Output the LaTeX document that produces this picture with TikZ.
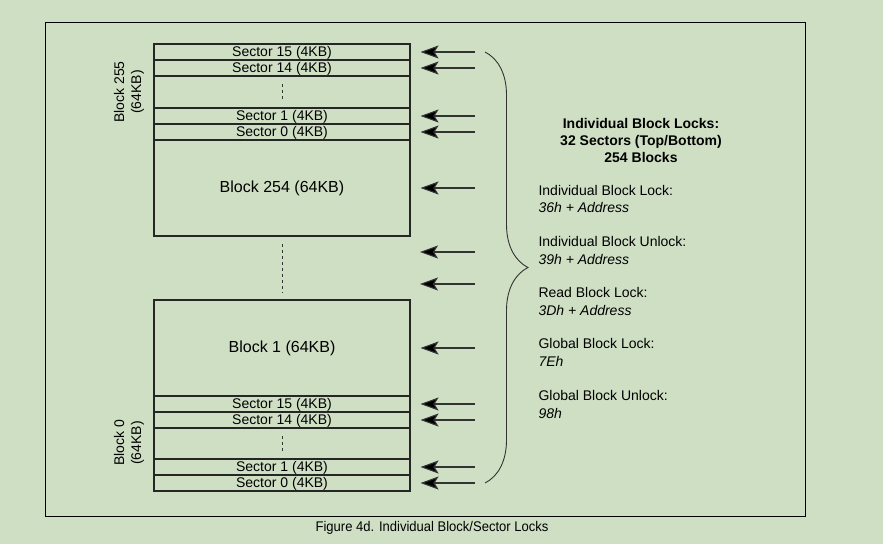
\documentclass[tikz,border=0pt]{standalone}
\usepackage{fontspec}
\setmainfont{Liberation Sans}
\newfontfamily\capfont[FakeStretch=0.93]{Liberation Sans}
\usetikzlibrary{arrows.meta,decorations.pathreplacing}
\definecolor{paper}{RGB}{207,223,196}

\begin{document}
\begin{tikzpicture}[x=1pt, y=-1pt,
    sector/.style={rectangle, draw=black!85, line width=1.1pt, minimum width=256pt,
                   minimum height=16pt, inner sep=0pt, text height=10.5pt, text depth=1pt,
                   font=\fontsize{14}{14}\selectfont},
    blockbox/.style={rectangle, draw=black!85, line width=1.1pt, minimum width=256pt, inner sep=0pt},
    blocktext/.style={font=\fontsize{16}{16}\selectfont},
    sidelabel/.style={rotate=90, align=center, font=\fontsize{14}{17}\selectfont},
    lockarrow/.style={draw=black!80, line width=1.1pt, shorten >=10pt,
                      -{Stealth[length=18pt, width=13pt, inset=4pt, fill=black]}},
    vdots/.style={draw=black!80, line width=1pt, dash pattern=on 2.5pt off 3.5pt},
    cmd/.style={anchor=west, align=left, font=\fontsize{14}{17.5}\selectfont}]

        % Background and frame
        \useasboundingbox[fill=paper] (0,0) rectangle (883,544);
        \draw[line width=0.8pt] (45,22) rectangle (805,516);

        % Block 255 and Block 254
        \node[blockbox, minimum height=192pt] (b255) at (282,140) {};
        \node[sector] (s15t) at (282,52) {Sector 15 (4KB)};
        \node[sector] (s14t) at (282,68) {Sector 14 (4KB)};
        \node[sector] (s1t) at (282,116) {Sector 1 (4KB)};
        \node[sector] (s0t) at (282,132) {Sector 0 (4KB)};
        \node[blocktext] (b254) at (282,188) {Block 254 (64KB)};
        \node[sidelabel] (l255) at (129,92) {Block 255\\(64KB)};
        \coordinate (dt1) at (282,84);
        \coordinate (dt2) at (282,101);
        \draw[vdots] (dt1) -- (dt2);

        % gap between blocks
        \coordinate (gap1) at (282,244);
        \coordinate (gap2) at (282,293);
        \draw[vdots] (gap1) -- (gap2);
        \coordinate (g1) at (410,252);
        \coordinate (g2) at (410,284);

        % Block 1 and Block 0
        \node[blockbox, minimum height=191pt] (b0) at (282,395.5) {};
        \node[blocktext] (b1) at (282,348) {Block 1 (64KB)};
        \node[sector] (s15b) at (282,404) {Sector 15 (4KB)};
        \node[sector] (s14b) at (282,420) {Sector 14 (4KB)};
        \node[sector] (s1b) at (282,467) {Sector 1 (4KB)};
        \node[sector] (s0b) at (282,483) {Sector 0 (4KB)};
        \node[sidelabel] (l0) at (129,443) {Block 0\\(64KB)};
        \coordinate (db1) at (282,436);
        \coordinate (db2) at (282,453);
        \draw[vdots] (db1) -- (db2);

        % Arrows
        \coordinate (a1) at (475,52);
        \coordinate (a2) at (475,68);
        \coordinate (a3) at (475,116);
        \coordinate (a4) at (475,132);
        \coordinate (a5) at (475,188);
        \coordinate (a6) at (475,252);
        \coordinate (a7) at (475,284);
        \coordinate (a8) at (475,348);
        \coordinate (a9) at (475,404);
        \coordinate (a10) at (475,420);
        \coordinate (a11) at (475,467);
        \coordinate (a12) at (475,483);
        \draw[lockarrow] (a1) -- (s15t.east);
        \draw[lockarrow] (a2) -- (s14t.east);
        \draw[lockarrow] (a3) -- (s1t.east);
        \draw[lockarrow] (a4) -- (s0t.east);
        \draw[lockarrow] (a5) -- (b255.east |- a5);
        \draw[lockarrow] (a6) -- (g1);
        \draw[lockarrow] (a7) -- (g2);
        \draw[lockarrow] (a8) -- (b0.east |- a8);
        \draw[lockarrow] (a9) -- (s15b.east);
        \draw[lockarrow] (a10) -- (s14b.east);
        \draw[lockarrow] (a11) -- (s1b.east);
        \draw[lockarrow] (a12) -- (s0b.east);

        % Brace
        \coordinate (br1) at (485,52);
        \coordinate (br2) at (485,483);
        \draw[black!80, line width=0.9pt, decorate, decoration={brace, amplitude=43pt}] (br1) -- (br2);

        % Command list
        \node[align=center, font=\fontsize{14}{17}\selectfont\bfseries] (title) at (641,140)
            {Individual Block Locks:\\32 Sectors (Top/Bottom)\\254 Blocks};
        \node[cmd] (c1) at (535,199) {Individual Block Lock:\\\textit{36h + Address}};
        \node[cmd] (c2) at (535,250.5) {Individual Block Unlock:\\\textit{39h + Address}};
        \node[cmd] (c3) at (535,301.5) {Read Block Lock:\\\textit{3Dh + Address}};
        \node[cmd] (c4) at (535,352.5) {Global Block Lock:\\\textit{7Eh}};
        \node[cmd] (c5) at (535,404.5) {Global Block Unlock:\\\textit{98h}};

        % Caption
        \node[font=\capfont\fontsize{14}{14}\selectfont] (cap) at (432,528)
            {Figure 4d. Individual Block/Sector Locks};

\end{tikzpicture}
\end{document}
